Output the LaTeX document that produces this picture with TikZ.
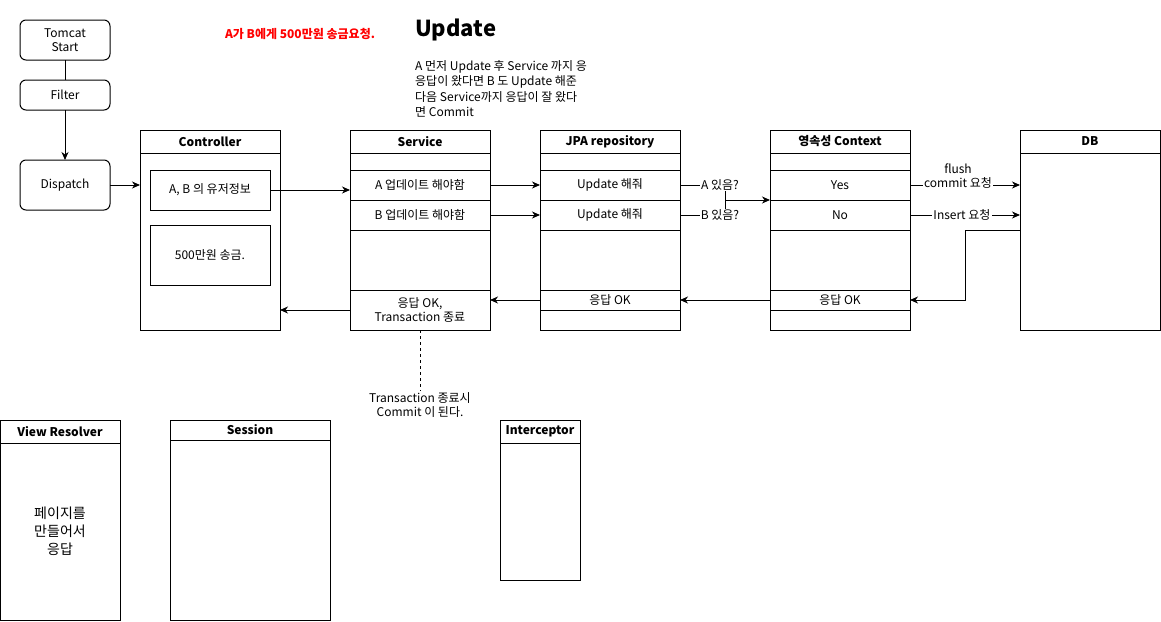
\documentclass[tikz,border=0pt]{standalone}
\usepackage{fontspec}
\setmainfont{Noto Sans CJK KR}
\usetikzlibrary{arrows.meta}
\newcommand\sz[2]{\fontsize{#1pt}{#2pt}\selectfont}
\definecolor{redtxt}{RGB}{255,0,0}
\tikzset{
  box/.style={draw, line width=1pt, anchor=north west, inner sep=0pt, outer sep=0pt, font=\sz{12}{14}, align=center},
  hdr/.style={box, font=\sz{12}{14}\bfseries},
  rbox/.style={box, rounded corners=6pt},
  arr/.style={line width=1pt, -{Stealth[length=8pt,width=7pt,inset=2.5pt]}},
  ln/.style={line width=1pt},
  lbl/.style={fill=white, inner sep=1pt, font=\sz{12}{14}, align=center},
}
\begin{document}
\begin{tikzpicture}[x=1pt,y=-1pt]
\useasboundingbox[fill=white] (0,0) rectangle (1161,621);
% left flow
\node[rbox, minimum width=90pt, minimum height=40pt] (tomcat) at (20,20) {Tomcat\\Start};
\node[rbox, minimum width=90pt, minimum height=30pt] (filter) at (20,80) {Filter};
\node[rbox, minimum width=90pt, minimum height=50pt] (dispatch) at (20,160) {Dispatch};
% Controller
\node[hdr, minimum width=140pt, minimum height=23pt] (ctrlh) at (140,130) {Controller};
\node[box, minimum width=140pt, minimum height=177pt] (ctrl) at (140,153) {};
\node[box, minimum width=120pt, minimum height=40pt] (info) at (150,170) {A, B 의 유저정보};
\node[box, minimum width=120pt, minimum height=60pt] (money) at (150,225) {500만원 송금.};
% Service
\node[hdr, minimum width=140pt, minimum height=23pt] (svch) at (350,130) {Service};
\node[box, minimum width=140pt, minimum height=17pt] (s1) at (350,153) {};
\node[box, minimum width=140pt, minimum height=30pt] (sa) at (350,170) {A 업데이트 해야함};
\node[box, minimum width=140pt, minimum height=30pt] (sb) at (350,200) {B 업데이트 해야함};
\node[box, minimum width=140pt, minimum height=60pt] (s2) at (350,230) {};
\node[box, minimum width=140pt, minimum height=40pt] (sok) at (350,290) {응답 OK,\\Transaction 종료};
% JPA
\node[hdr, minimum width=140pt, minimum height=23pt] (jpah) at (540,130) {JPA repository};
\node[box, minimum width=140pt, minimum height=17pt] (j1) at (540,153) {};
\node[box, minimum width=140pt, minimum height=30pt] (ja) at (540,170) {Update 해줘};
\node[box, minimum width=140pt, minimum height=30pt] (jb) at (540,200) {Update 해줘};
\node[box, minimum width=140pt, minimum height=60pt] (j2) at (540,230) {};
\node[box, minimum width=140pt, minimum height=20pt] (jok) at (540,290) {응답 OK};
\node[box, minimum width=140pt, minimum height=20pt] (j3) at (540,310) {};
% Context
\node[hdr, minimum width=140pt, minimum height=23pt] (ctxh) at (770,130) {영속성 Context};
\node[box, minimum width=140pt, minimum height=17pt] (c1) at (770,153) {};
\node[box, minimum width=140pt, minimum height=30pt] (cyes) at (770,170) {Yes};
\node[box, minimum width=140pt, minimum height=30pt] (cno) at (770,200) {No};
\node[box, minimum width=140pt, minimum height=60pt] (c2) at (770,230) {};
\node[box, minimum width=140pt, minimum height=20pt] (cok) at (770,290) {응답 OK};
\node[box, minimum width=140pt, minimum height=20pt] (c3) at (770,310) {};
% DB
\node[hdr, minimum width=140pt, minimum height=23pt] (dbh) at (1020,130) {DB};
\node[box, minimum width=140pt, minimum height=177pt] (db) at (1020,153) {};
% bottom boxes
\node[hdr, minimum width=120pt, minimum height=23pt] (vrh) at (0,420) {View Resolver};
\node[box, minimum width=120pt, minimum height=177pt, font=\sz{14}{18}] (vr) at (0,443) {페이지를\\만들어서\\응답};
\node[hdr, minimum width=160pt, minimum height=20pt] (sesh) at (170,420) {Session};
\node[box, minimum width=160pt, minimum height=180pt] (ses) at (170,440) {};
\node[hdr, minimum width=80pt, minimum height=23pt] (inth) at (500,420) {Interceptor};
\node[box, minimum width=80pt, minimum height=137pt] (int) at (500,443) {};
% texts
\node[anchor=west, inner sep=0pt, font=\sz{22}{24}\bfseries] (title) at (415,30) {Update};
\node[anchor=north west, align=left, inner sep=0pt, font=\sz{12}{15.5}] (desc) at (415,60) {A 먼저 Update 후 Service 까지 응\\응답이 왔다면 B 도 Update 해준\\다음 Service까지 응답이 잘 왔다\\면 Commit};
\node[text=redtxt, font=\sz{12}{14}\bfseries] (req) at (300,34) {A가 B에게 500만원 송금요청.};
\node[font=\sz{12}{14}, align=center, inner sep=1pt] (note) at (420,405) {Transaction 종료시\\Commit 이 된다.};
% connectors
\draw[ln] (tomcat) -- (filter);
\draw[arr] (filter) -- (dispatch);
\draw[arr] (dispatch.east) -- (dispatch.east -| ctrl.west);
\draw[arr] (info.east) -- (info.east -| sa.west);
\draw[arr] (sa) -- (ja);
\draw[arr] (sb) -- (jb);
\coordinate (cjoin) at (725,200);
\draw[ln] (ja.east) -| (cjoin);
\draw[ln] (jb.east) -| (cjoin);
\draw[arr] (cjoin) -- (cjoin -| cyes.west);
\node[lbl] (la) at (720,185) {A 있음?};
\node[lbl] (lb) at (720,215) {B 있음?};
\draw[arr] (cyes.east) -- (cyes.east -| db.west);
\draw[arr] (cno.east) -- (cno.east -| db.west);
\node[lbl] (lflush) at (958,176) {flush\\commit 요청};
\node[lbl] (lins) at (962,215) {Insert 요청};
\coordinate (dbout) at (1020,230);
\draw[arr] (dbout) -- ++(-55,0) |- (cok.east);
\draw[arr] (cok) -- (jok);
\draw[arr] (jok.west) -- (jok.west -| sok.east);
\draw[arr] (sok.west) -- (sok.west -| ctrl.east);
\draw[ln, dashed, dash pattern=on 3pt off 3pt] (sok.south) -- (note.north);
\end{tikzpicture}
\end{document}
